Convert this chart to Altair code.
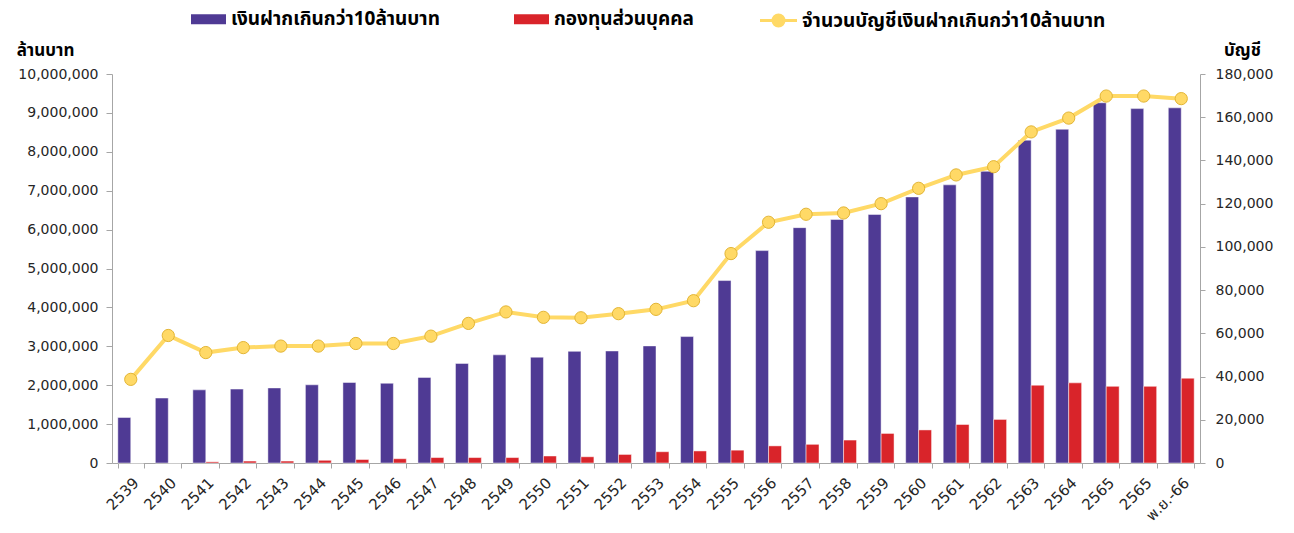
import altair as alt
import pandas as pd

# ---- data ----
labels = ["2539", "2540", "2541", "2542", "2543", "2544", "2545", "2546", "2547",
          "2548", "2549", "2550", "2551", "2552", "2553", "2554", "2555", "2556",
          "2557", "2558", "2559", "2560", "2561", "2562", "2563", "2564", "2565",
          "2565", "พ.ย.-66"]

# deposits above 10 million baht (million baht)
deposits = [1170000, 1670000, 1880000, 1900000, 1930000, 2010000, 2070000, 2050000,
            2200000, 2560000, 2780000, 2720000, 2870000, 2880000, 3010000, 3250000,
            4690000, 5460000, 6050000, 6260000, 6390000, 6840000, 7150000, 7500000,
            8300000, 8580000, 9260000, 9110000, 9130000]

# private funds (million baht)
funds = [0, 0, 30000, 50000, 50000, 70000, 90000, 110000, 140000, 140000, 140000,
         180000, 160000, 220000, 290000, 310000, 330000, 440000, 480000, 590000,
         760000, 850000, 990000, 1120000, 2000000, 2060000, 1970000, 1970000, 2180000]

# number of accounts above 10 million baht
accounts = [38700, 59000, 51100, 53400, 54100, 54100, 55300, 55300, 58700, 64600,
            69900, 67400, 67200, 69100, 71100, 75100, 96900, 111400, 115100, 115700,
            120000, 127100, 133300, 137100, 153200, 159600, 169800, 169800, 168600]

left_ticks = [0, 1000000, 2000000, 3000000, 4000000, 5000000, 6000000, 7000000,
              8000000, 9000000, 10000000]
right_ticks = [0, 20000, 40000, 60000, 80000, 100000, 120000, 140000, 160000, 180000]

S1 = "เงินฝากเกินกว่า10ล้านบาท"
S2 = "กองทุนส่วนบุคคล"
S3 = "จำนวนบัญชีเงินฝากเกินกว่า10ล้านบาท"

BLUE = "#4F3A94"
RED = "#D9242A"
YELLOW = "#FFD966"
PT_STROKE = "#E3B535"
AXIS_GRAY = "#A6A6A6"
TXT = "#262626"
FONT = "DejaVu Sans, Noto Sans Thai, Noto Sans, sans-serif"
TFONT = "Noto Sans Thai, Tahoma, DejaVu Sans, sans-serif"

rows = []
for i in range(len(labels)):
    rows.append({"idx": i, "series": S1, "value": deposits[i]})
    rows.append({"idx": i, "series": S2, "value": funds[i]})
bars_df = pd.DataFrame(rows)
line_df = pd.DataFrame({"idx": list(range(len(labels))), "accounts": accounts,
                        "series": [S3] * len(labels)})

label_expr = "[" + ",".join("'" + l + "'" for l in labels) + "][datum.value]"

x = alt.X(
    "idx:O",
    scale=alt.Scale(paddingInner=0.31, paddingOuter=0.155),
    axis=alt.Axis(title=None, labelExpr=label_expr, labelAngle=-45, tickBand="extent",
                  labelFontSize=15, labelFont=FONT, labelColor=TXT, tickSize=5,
                  labelPadding=7, domainColor=AXIS_GRAY, tickColor=AXIS_GRAY),
)

bars = alt.Chart(bars_df).mark_bar(stroke="white", strokeWidth=0.8, strokeOpacity=0.6).encode(
    x=x,
    xOffset=alt.XOffset("series:N", sort=[S1, S2], scale=alt.Scale(domain=[S1, S2])),
    y=alt.Y("value:Q",
            scale=alt.Scale(domain=[0, 10000000], nice=False),
            axis=alt.Axis(title="ล้านบาท", values=left_ticks, format=",d", orient="left",
                          titleAngle=0, titleX=-67, titleY=-24, titleAlign="center",
                          titleBaseline="middle", titleFont=TFONT, titleFontSize=17,
                          titleFontWeight="bold", titleColor="black",
                          labelFontSize=14, labelFont=FONT, labelColor=TXT,
                          tickSize=6, labelPadding=8, domainColor=AXIS_GRAY,
                          tickColor=AXIS_GRAY, grid=False)),
    color=alt.Color("series:N",
                    scale=alt.Scale(domain=[S1, S2], range=[BLUE, RED]),
                    legend=alt.Legend(title=None, orient="none", legendX=87, legendY=-64.5,
                                      direction="horizontal",
                                      symbolType="M-3.5,-1H3.5V1H-3.5Z", symbolSize=100,
                                      symbolStrokeWidth=0,
                                      labelFont=TFONT, labelFontSize=19,
                                      labelFontWeight="bold", labelColor="black",
                                      labelOffset=13, columnPadding=74, labelLimit=500)),
)

yR = alt.Y("accounts:Q",
           scale=alt.Scale(domain=[0, 180000], nice=False),
           axis=alt.Axis(title="บัญชี", values=right_ticks, format=",d", orient="right",
                         titleAngle=0, titleX=42, titleY=-24, titleAlign="center",
                         titleBaseline="middle", titleFont=TFONT, titleFontSize=17,
                         titleFontWeight="bold", titleColor="black",
                         labelFontSize=14, labelFont=FONT, labelColor=TXT,
                         tickSize=5, labelPadding=10, domainColor=AXIS_GRAY,
                         tickColor=AXIS_GRAY, grid=False))

line = alt.Chart(line_df).mark_line(strokeWidth=4).encode(
    x=x,
    y=yR,
    stroke=alt.Stroke("series:N",
                      scale=alt.Scale(domain=[S3], range=[YELLOW]),
                      legend=alt.Legend(title=None, orient="none", legendX=655, legendY=-65,
                                        direction="horizontal",
                                        symbolType="M-1.85,0H-0.55M0.55,0H1.85M-0.55,0A0.55,0.55 0 1,1 0.55,0A0.55,0.55 0 1,1 -0.55,0Z",
                                        symbolSize=400, symbolStrokeWidth=3,
                                        symbolFillColor=YELLOW,
                                        labelFont=TFONT, labelFontSize=19,
                                        labelFontWeight="bold", labelColor="black",
                                        labelOffset=12, labelLimit=600)),
)

points = alt.Chart(line_df).mark_point(filled=True, size=150, fill=YELLOW, stroke=PT_STROKE,
                                       strokeWidth=1, opacity=1).encode(
    x=x,
    y=yR,
)

chart = alt.layer(bars, alt.layer(line, points)).resolve_scale(y="independent").properties(
    width=1088,
    height=389,
    autosize=alt.AutoSizeParams(type="none"),
    padding={"left": 112, "top": 74, "right": 94, "bottom": 70},
).configure_view(stroke=None).configure_axis(grid=False)

chart.save("out.html", embed_options={"renderer": "svg", "actions": False})
